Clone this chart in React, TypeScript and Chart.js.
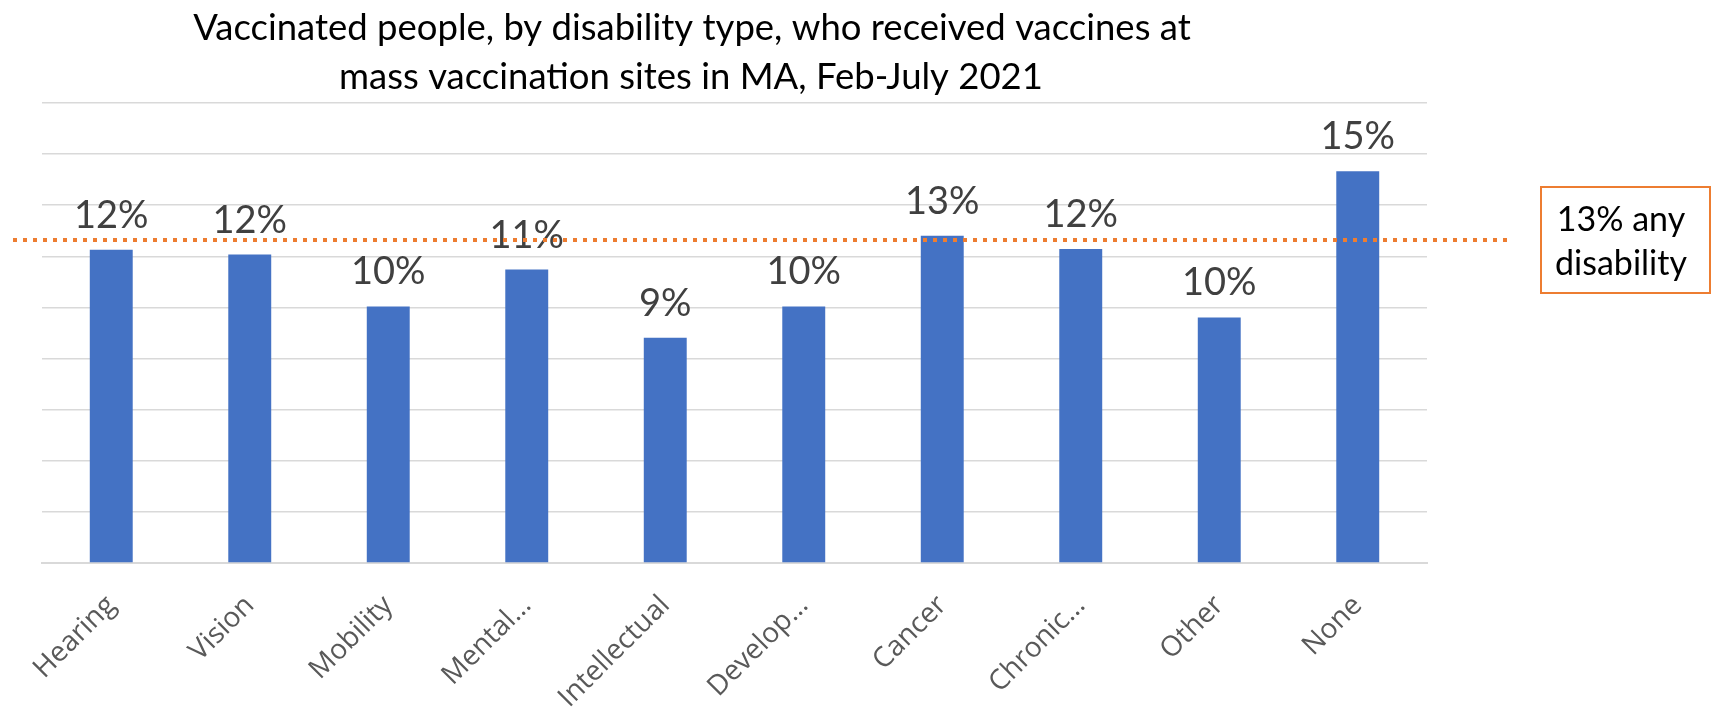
import React, { useEffect, useRef } from "react";
import { Chart, registerables } from "chart.js";

Chart.register(...registerables);

const titleLines = [
  "Vaccinated people, by disability type, who received vaccines at",
  "mass vaccination sites in MA, Feb-July 2021",
];
const categories = [
  "Hearing",
  "Vision",
  "Mobility",
  "Mental…",
  "Intellectual",
  "Develop…",
  "Cancer",
  "Chronic…",
  "Other",
  "None",
];
const values = [12.26, 12.07, 10.04, 11.48, 8.81, 10.04, 12.81, 12.29, 9.61, 15.33];
const valueLabels = ["12%", "12%", "10%", "11%", "9%", "10%", "13%", "12%", "10%", "15%"];
const anyDisabilityValue = 12.64;
const anyDisabilityLines = ["13% any", "disability"];
const yMin = 0;
const yMax = 18;
const yStep = 2;

const W = 1714;
const H = 709;

const overlayPlugin = {
  id: "overlay",
  afterDatasetsDraw(chart: any) {
    const ctx = chart.ctx as CanvasRenderingContext2D;
    const yScale = chart.scales.y;
    const meta = chart.getDatasetMeta(0);

    // data labels
    ctx.save();
    ctx.font = "38px Lato";
    ctx.fillStyle = "#404040";
    ctx.textAlign = "center";
    ctx.textBaseline = "alphabetic";
    meta.data.forEach((el: any, i: number) => {
      ctx.fillText(valueLabels[i], el.x, el.y - 22);
    });
    ctx.restore();

    // dotted reference line
    const ly = yScale.getPixelForValue(anyDisabilityValue);
    ctx.save();
    ctx.strokeStyle = "#ED7D31";
    ctx.lineWidth = 4;
    ctx.setLineDash([4, 6]);
    ctx.beginPath();
    ctx.moveTo(13, ly);
    ctx.lineTo(1513, ly);
    ctx.stroke();
    ctx.restore();

    // annotation box
    ctx.save();
    ctx.fillStyle = "#ffffff";
    ctx.fillRect(1541, 187, 169, 106);
    ctx.strokeStyle = "#ED7D31";
    ctx.lineWidth = 2;
    ctx.strokeRect(1541, 187, 169, 106);
    ctx.font = "34px Lato";
    ctx.fillStyle = "#000000";
    ctx.textAlign = "center";
    ctx.textBaseline = "alphabetic";
    ctx.fillText(anyDisabilityLines[0], 1621, 231);
    ctx.fillText(anyDisabilityLines[1], 1621, 275);
    ctx.restore();

    // title
    ctx.save();
    ctx.font = "36.5px Lato";
    ctx.fillStyle = "#000000";
    ctx.textAlign = "center";
    ctx.textBaseline = "alphabetic";
    ctx.fillText(titleLines[0], 692, 39.5);
    ctx.fillText(titleLines[1], 691, 88.5);
    ctx.restore();
  },
};

export default function App() {
  const ref = useRef<HTMLCanvasElement>(null);

  useEffect(() => {
    if (!ref.current) return;
    const chart = new Chart(ref.current, {
      type: "bar",
      data: {
        labels: categories,
        datasets: [
          {
            data: values,
            backgroundColor: "#4472C4",
            borderWidth: 0,
            categoryPercentage: 1,
            barPercentage: 0.31,
          },
        ],
      },
      options: {
        animation: false,
        responsive: false,
        maintainAspectRatio: false,
        layout: { padding: { left: 42, right: 287, top: 103, bottom: 0 } },
        plugins: {
          legend: { display: false },
          title: { display: false },
          tooltip: { enabled: false },
        },
        scales: {
          x: {
            grid: { display: false, drawTicks: false },
            border: { display: true, color: "#D9D9D9", width: 2 },
            ticks: {
              autoSkip: false,
              maxRotation: 45,
              minRotation: 45,
              padding: 26,
              color: "#595959",
              font: { family: "'Open Sans'", size: 28 },
            },
            afterFit: (s: any) => {
              s.height = 146;
            },
          },
          y: {
            min: yMin,
            max: yMax,
            ticks: { display: false, stepSize: yStep },
            grid: { color: "#D9D9D9", lineWidth: 1.5, drawTicks: false },
            border: { display: false },
            afterFit: (s: any) => {
              s.width = 0;
            },
          },
        },
      },
      plugins: [overlayPlugin],
    });
    return () => chart.destroy();
  }, []);

  return (
    <div style={{ position: "fixed", left: 0, top: 0, width: W, height: H, background: "#fff" }}>
      <canvas ref={ref} width={W} height={H} style={{ width: W, height: H, display: "block" }} />
    </div>
  );
}
